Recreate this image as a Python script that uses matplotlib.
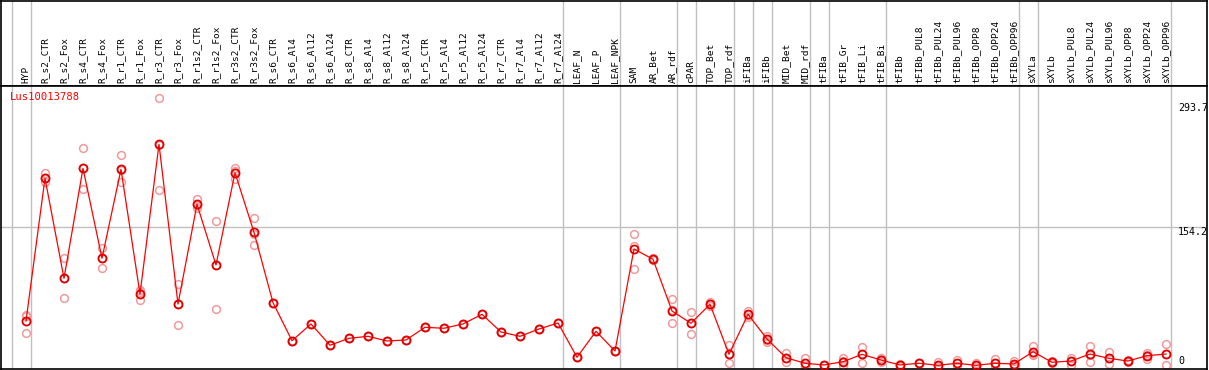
import matplotlib
matplotlib.use("Agg")
import matplotlib.pyplot as plt
import matplotlib.transforms as mtransforms

# ---------------- data ----------------
categories = [
    "HYP", "R_s2_CTR", "R_s2_Fox", "R_s4_CTR", "R_s4_Fox", "R_r1_CTR", "R_r1_Fox",
    "R_r3_CTR", "R_r3_Fox", "R_r1s2_CTR", "R_r1s2_Fox", "R_r3s2_CTR", "R_r3s2_Fox",
    "R_s6_CTR", "R_s6_Al4", "R_s6_Al12", "R_s6_Al24",
    "R_s8_CTR", "R_s8_Al4", "R_s8_Al12", "R_s8_Al24",
    "R_r5_CTR", "R_r5_Al4", "R_r5_Al12", "R_r5_Al24",
    "R_r7_CTR", "R_r7_Al4", "R_r7_Al12", "R_r7_Al24",
    "LEAF_N", "LEAF_P", "LEAF_NPK", "SAM", "AR_Bet", "AR_rdf", "cPAR",
    "TOP_Bet", "TOP_rdf", "iFIBa", "iFIBb", "MID_Bet", "MID_rdf",
    "tFIBa", "tFIB_Gr", "tFIB_Li", "tFIB_Bi", "tFIBb",
    "tFIBb_PUL8", "tFIBb_PUL24", "tFIBb_PUL96", "tFIBb_OPP8", "tFIBb_OPP24", "tFIBb_OPP96",
    "sXYLa", "sXYLb",
    "sXYLb_PUL8", "sXYLb_PUL24", "sXYLb_PUL96", "sXYLb_OPP8", "sXYLb_OPP24", "sXYLb_OPP96",
]

mean_values = [
    49.7, 209.2, 97.4, 220.3, 119.8, 219.2, 79.9, 247.2, 68.7, 180.1, 112.3, 215.4, 148.8,
    70.2, 27.7, 46.4, 22.6,
    30.4, 32.6, 27.4, 28.5,
    42.7, 41.6, 46.4, 57.2,
    37.4, 32.6, 40.8, 47.5,
    9.2, 38.2, 16.2, 130.2, 118.7, 60.9, 47.2,
    68.4, 12.5, 57.2, 29.6, 8.7, 2.5,
    0.6, 4.2, 12.5, 6.1, 0.6,
    2.5, 0.2, 2.5, 0.2, 2.5, 1.7,
    15.4, 3.6,
    5.0, 12.8, 8.0, 5.0, 11.0, 12.8,
]

rep1_values = [
    55.3, 215.4, 119.8, 242.7, 131.0, 235.2, 84.4, 298.9, 91.1, 186.0, 161.7, 220.3, 164.5,
    70.2, 27.7, 46.4, 22.6,
    30.4, 32.6, 27.4, 28.5,
    42.7, 41.6, 46.4, 57.2,
    37.4, 32.6, 40.8, 47.5,
    9.2, 38.2, 16.2, 146.9, 120.0, 74.0, 59.4,
    70.6, 22.6, 61.2, 33.3, 13.6, 8.0,
    1.0, 8.0, 20.7, 8.7, 2.0,
    2.5, 3.6, 6.1, 2.5, 6.9, 5.4,
    21.8, 4.5,
    8.7, 21.8, 15.4, 6.0, 14.3, 24.0,
]

rep2_values = [
    35.9, 205.4, 75.1, 197.2, 108.6, 204.7, 73.2, 196.1, 45.8, 175.6, 62.8, 208.0, 134.6,
    70.2, 27.7, 46.4, 22.6,
    30.4, 32.6, 27.4, 28.5,
    42.7, 41.6, 46.4, 57.2,
    37.4, 32.6, 40.8, 47.5,
    9.2, 38.2, 16.2, 107.5, 117.5, 47.2, 34.9,
    66.0, 2.5, 54.5, 26.6, 4.2, 0.0,
    0.2, 0.0, 3.1, 3.6, 0.0,
    2.5, 0.0, 0.0, 0.0, 0.0, 0.0,
    11.7, 3.0,
    0.6, 4.2, 1.3, 4.0, 6.9, 0.6,
]

rep3_values = [
    56.4, 209.5, 97.8, 220.7, 120.0, 218.0, 82.0, 246.5, 68.7, 179.0, 112.4, 217.8, 147.0,
    70.2, 27.7, 46.4, 22.6,
    30.4, 32.6, 27.4, 28.5,
    42.7, 41.6, 46.4, 57.2,
    37.4, 32.6, 40.8, 47.5,
    9.2, 38.2, 16.2, 133.9, 118.5, 61.5, 47.0,
    68.5, 12.5, 56.0, 29.0, 8.0, 0.0,
    0.6, 4.5, 13.0, 6.0, 0.0,
    2.5, 0.0, 2.5, 0.0, 2.5, 1.0,
    13.0, 3.5,
    5.5, 12.0, 8.0, 5.0, 11.5, 13.0,
]

gene_name = "Lus10013788"
y_labels = [293.7, 154.2, 0]
# group separators: after these category indices
group_ends = [-1, 0, 28, 31, 34, 35, 37, 38, 39, 41, 42, 45, 52, 53, 60]

# ---------------- layout ----------------
W, H = 1209, 370
fig = plt.figure(figsize=(W / 100, H / 100), dpi=100)


def rect(l, t, r, b):
    return [l / W, 1 - b / H, (r - l) / W, (b - t) / H]


X0, DX = 26.0, 19.0          # pixel x of first column, column spacing
L, R = 1.0, 1207.0
Y0PX, KPX = 365.5, 0.895     # pixel y of value 0, pixels per unit
TOP, BOT = 86.0, 369.0

xlim = ((L - X0) / DX, (R - X0) / DX)
ylim = ((Y0PX - BOT) / KPX, (Y0PX - TOP) / KPX)

mono = "DejaVu Sans Mono"
grey = "#c0c0c0"

# header axes
axh = fig.add_axes(rect(L, 0.5, R, TOP))
axh.set_xlim(*xlim)
axh.set_ylim(TOP, 0.5)
axh.set_xticks([])
axh.set_yticks([])
for s in axh.spines.values():
    s.set_color("black")
    s.set_linewidth(1.2)

# main axes
ax = fig.add_axes(rect(L, TOP, R, BOT))
ax.set_xlim(*xlim)
ax.set_ylim(*ylim)
ax.set_xticks([])
ax.set_yticks([])
for s in ax.spines.values():
    s.set_color("black")
    s.set_linewidth(1.2)

# group separator lines
for g in group_ends:
    for a in (axh, ax):
        a.axvline(g + 0.25, color=grey, lw=1.0, zorder=1)

ax.axhline(y_labels[1], color=grey, lw=1.0, zorder=1)

# category labels
for i, c in enumerate(categories):
    axh.text(i, 83.0, c, rotation=90, ha="center", va="bottom",
             fontsize=6.8, family=mono, color="black")

x = list(range(len(categories)))

# replicates
for reps in (rep1_values, rep2_values, rep3_values):
    ax.plot(x, reps, linestyle="none", marker="o", markersize=5.6,
            fillstyle="none", markeredgecolor="#f09a9a", markeredgewidth=1.1,
            zorder=2)

# mean line
ax.plot(x, mean_values, color="#ff0000", lw=0.9, zorder=3)
ax.plot(x, mean_values, linestyle="none", marker="o", markersize=5.8,
        fillstyle="none", markeredgecolor="#e00000", markeredgewidth=1.3,
        zorder=4)

# y labels on right
trans = mtransforms.blended_transform_factory(ax.transAxes, ax.transData)
xfrac = (1178 - L) / (R - L)
for v in y_labels:
    ax.text(xfrac, v, f"{v:g}", transform=trans, ha="left",
            va="bottom" if v == 0 else "top", fontsize=7.2, family=mono,
            color="black", clip_on=True)

# gene name
fig.text(9.5 / W, 1 - 97.5 / H, gene_name, color="red", fontsize=7.6,
         family=mono, ha="left", va="center")

fig.savefig("out.png", dpi=100, facecolor="white")
